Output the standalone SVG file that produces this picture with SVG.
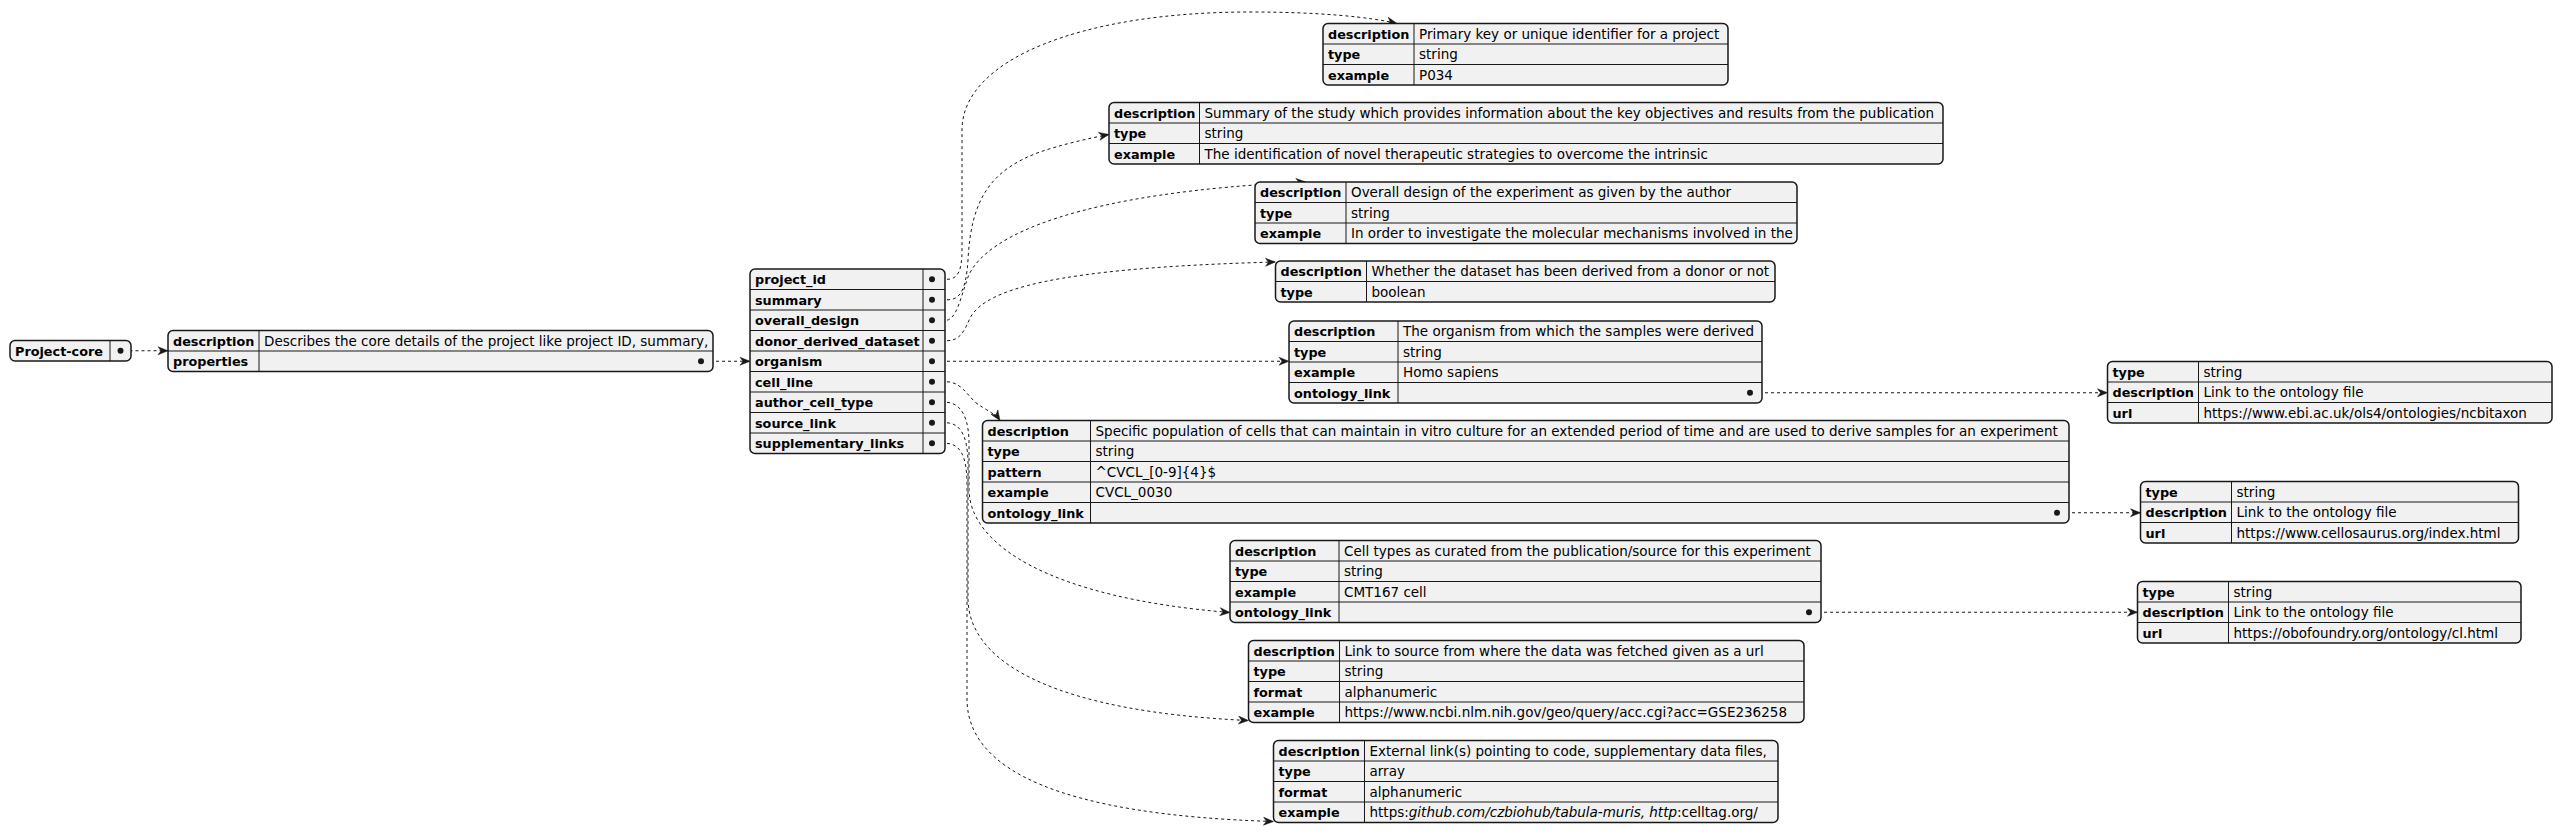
<svg xmlns="http://www.w3.org/2000/svg" width="2562" height="836" viewBox="0 0 2562 836">
<style>
.tb{fill:#F1F1F1;stroke:#181818;stroke-width:1.5}
.ln{stroke:#181818;stroke-width:1}
.k{font-family:"DejaVu Sans",sans-serif;font-weight:bold;font-size:12.8px;fill:#000}
.v{font-family:"DejaVu Sans",sans-serif;font-size:13.5px;fill:#000}
.e{fill:none;stroke:#181818;stroke-width:1;stroke-dasharray:3,3}
.dot{fill:#181818}
</style>
<defs>
<marker id="ah" markerUnits="userSpaceOnUse" markerWidth="11" markerHeight="9" refX="10" refY="4" orient="auto" overflow="visible">
<path d="M0,0 L10,4 L0,8 L3,4 Z" fill="#181818" stroke="#181818" stroke-width="0.5"/>
</marker>
</defs>
<rect width="2562" height="836" fill="#FFFFFF"/>

<g id="edges">
<path class="e" d="M123.5,350.75 L168,350.75" marker-end="url(#ah)"/>
<path class="e" d="M704,361.25 L750,361.25" marker-end="url(#ah)"/>
<path class="e" d="M935,279.25 L948,279.25 C958,279 962,270 962,250 L962,130 C962,60 1080,12 1250,12 C1320,12 1370,17 1397,23.5" marker-end="url(#ah)"/>
<path class="e" d="M935,299.75 L948,299.75 C960,299.75 966,290 968,260 C971,200 990,170 1040,152 C1060,145 1090,138 1109,134.5" marker-end="url(#ah)"/>
<path class="e" d="M935,320.25 L946,320.25 C956,320 960,300 968,277 C985,235 1080,192 1306,182" marker-end="url(#ah)"/>
<path class="e" d="M935,340.75 L946,340.75 C958,340.75 963,335 970,318 C985,290 1050,268 1275.5,262" marker-end="url(#ah)"/>
<path class="e" d="M935,361.25 L1289,361.25" marker-end="url(#ah)"/>
<path class="e" d="M935,381.75 L946,381.75 C960,382 965,392 975,402 C985,410 995,413 1000,420.5" marker-end="url(#ah)"/>
<path class="e" d="M935,402.25 L946,402.25 C960,403 968,415 969,440 L969,490 C970,545 1050,598 1230,612.5" marker-end="url(#ah)"/>
<path class="e" d="M935,422.75 L946,422.75 C960,423 967,435 968,460 L968,600 C970,665 1060,712 1248.5,720.5" marker-end="url(#ah)"/>
<path class="e" d="M935,443.25 L946,443.25 C960,444 966,455 967,480 L967,700 C968,770 1060,815 1273.5,821.5" marker-end="url(#ah)"/>
<path class="e" d="M1753,392.75 L2107.5,392.75" marker-end="url(#ah)"/>
<path class="e" d="M2060,512.75 L2140.5,512.75" marker-end="url(#ah)"/>
<path class="e" d="M1812,612.25 L2137.5,612.25" marker-end="url(#ah)"/>
</g>

<g id="project-core">
<rect class="tb" x="10" y="340.5" width="121" height="20.5" rx="5"/>
<line class="ln" x1="110" y1="340.5" x2="110" y2="361"/>
<text class="k" x="15" y="355.5">Project-core</text>
<circle class="dot" cx="120.5" cy="350.75" r="3"/>
</g>

<g id="root">
<rect class="tb" x="168" y="330.5" width="545" height="41" rx="5"/>
<line class="ln" x1="259" y1="330.5" x2="259" y2="371.5"/>
<line class="ln" x1="168" y1="351" x2="713" y2="351"/>
<text class="k" x="173" y="345.5">description</text>
<text class="v" x="264" y="345.5">Describes the core details of the project like project ID, summary,</text>
<text class="k" x="173" y="366">properties</text>
<circle class="dot" cx="701" cy="361.25" r="3"/>
</g>

<g id="properties">
<rect class="tb" x="750" y="269" width="195" height="184.5" rx="5"/>
<line class="ln" x1="923" y1="269" x2="923" y2="453.5"/>
<line class="ln" x1="750" y1="289.5" x2="945" y2="289.5"/>
<line class="ln" x1="750" y1="310" x2="945" y2="310"/>
<line class="ln" x1="750" y1="330.5" x2="945" y2="330.5"/>
<line class="ln" x1="750" y1="351" x2="945" y2="351"/>
<line class="ln" x1="750" y1="371.5" x2="945" y2="371.5"/>
<line class="ln" x1="750" y1="392" x2="945" y2="392"/>
<line class="ln" x1="750" y1="412.5" x2="945" y2="412.5"/>
<line class="ln" x1="750" y1="433" x2="945" y2="433"/>
<text class="k" x="755" y="284">project_id</text>
<text class="k" x="755" y="304.5">summary</text>
<text class="k" x="755" y="325">overall_design</text>
<text class="k" x="755" y="345.5">donor_derived_dataset</text>
<text class="k" x="755" y="366">organism</text>
<text class="k" x="755" y="386.5">cell_line</text>
<text class="k" x="755" y="407">author_cell_type</text>
<text class="k" x="755" y="427.5">source_link</text>
<text class="k" x="755" y="448">supplementary_links</text>
<circle class="dot" cx="932" cy="279.25" r="3"/>
<circle class="dot" cx="932" cy="299.75" r="3"/>
<circle class="dot" cx="932" cy="320.25" r="3"/>
<circle class="dot" cx="932" cy="340.75" r="3"/>
<circle class="dot" cx="932" cy="361.25" r="3"/>
<circle class="dot" cx="932" cy="381.75" r="3"/>
<circle class="dot" cx="932" cy="402.25" r="3"/>
<circle class="dot" cx="932" cy="422.75" r="3"/>
<circle class="dot" cx="932" cy="443.25" r="3"/>
</g>

<g id="project_id">
<rect class="tb" x="1323" y="23.5" width="405" height="61.5" rx="5"/>
<line class="ln" x1="1414" y1="23.5" x2="1414" y2="85"/>
<line class="ln" x1="1323" y1="44" x2="1728" y2="44"/>
<line class="ln" x1="1323" y1="64.5" x2="1728" y2="64.5"/>
<text class="k" x="1328" y="38.5">description</text><text class="v" x="1419" y="38.5">Primary key or unique identifier for a project</text>
<text class="k" x="1328" y="59">type</text><text class="v" x="1419" y="59">string</text>
<text class="k" x="1328" y="79.5">example</text><text class="v" x="1419" y="79.5">P034</text>
</g>

<g id="summary">
<rect class="tb" x="1109" y="102.5" width="834" height="61.5" rx="5"/>
<line class="ln" x1="1199.5" y1="102.5" x2="1199.5" y2="164"/>
<line class="ln" x1="1109" y1="123" x2="1943" y2="123"/>
<line class="ln" x1="1109" y1="143.5" x2="1943" y2="143.5"/>
<text class="k" x="1114" y="117.5">description</text><text class="v" x="1204.5" y="117.5">Summary of the study which provides information about the key objectives and results from the publication</text>
<text class="k" x="1114" y="138">type</text><text class="v" x="1204.5" y="138">string</text>
<text class="k" x="1114" y="158.5">example</text><text class="v" x="1204.5" y="158.5">The identification of novel therapeutic strategies to overcome the intrinsic</text>
</g>

<g id="overall_design">
<rect class="tb" x="1255" y="182" width="542" height="61.5" rx="5"/>
<line class="ln" x1="1346" y1="182" x2="1346" y2="243.5"/>
<line class="ln" x1="1255" y1="202.5" x2="1797" y2="202.5"/>
<line class="ln" x1="1255" y1="223" x2="1797" y2="223"/>
<text class="k" x="1260" y="197">description</text><text class="v" x="1351" y="197">Overall design of the experiment as given by the author</text>
<text class="k" x="1260" y="217.5">type</text><text class="v" x="1351" y="217.5">string</text>
<text class="k" x="1260" y="238">example</text><text class="v" x="1351" y="238">In order to investigate the molecular mechanisms involved in the</text>
</g>

<g id="donor_derived_dataset">
<rect class="tb" x="1275.5" y="261" width="499.5" height="41" rx="5"/>
<line class="ln" x1="1366.5" y1="261" x2="1366.5" y2="302"/>
<line class="ln" x1="1275.5" y1="281.5" x2="1775" y2="281.5"/>
<text class="k" x="1280.5" y="276">description</text><text class="v" x="1371.5" y="276">Whether the dataset has been derived from a donor or not</text>
<text class="k" x="1280.5" y="296.5">type</text><text class="v" x="1371.5" y="296.5">boolean</text>
</g>

<g id="organism">
<rect class="tb" x="1289" y="321" width="473" height="82" rx="5"/>
<line class="ln" x1="1398" y1="321" x2="1398" y2="403"/>
<line class="ln" x1="1289" y1="341.5" x2="1762" y2="341.5"/>
<line class="ln" x1="1289" y1="362" x2="1762" y2="362"/>
<line class="ln" x1="1289" y1="382.5" x2="1762" y2="382.5"/>
<text class="k" x="1294" y="336">description</text><text class="v" x="1403" y="336">The organism from which the samples were derived</text>
<text class="k" x="1294" y="356.5">type</text><text class="v" x="1403" y="356.5">string</text>
<text class="k" x="1294" y="377">example</text><text class="v" x="1403" y="377">Homo sapiens</text>
<text class="k" x="1294" y="397.5">ontology_link</text>
<circle class="dot" cx="1750" cy="392.75" r="3"/>
</g>

<g id="cell_line">
<rect class="tb" x="982.5" y="420.5" width="1086.5" height="102.5" rx="5"/>
<line class="ln" x1="1090.5" y1="420.5" x2="1090.5" y2="523"/>
<line class="ln" x1="982.5" y1="441" x2="2069" y2="441"/>
<line class="ln" x1="982.5" y1="461.5" x2="2069" y2="461.5"/>
<line class="ln" x1="982.5" y1="482" x2="2069" y2="482"/>
<line class="ln" x1="982.5" y1="502.5" x2="2069" y2="502.5"/>
<text class="k" x="987.5" y="435.5">description</text><text class="v" x="1095.5" y="435.5">Specific population of cells that can maintain in vitro culture for an extended period of time and are used to derive samples for an experiment</text>
<text class="k" x="987.5" y="456">type</text><text class="v" x="1095.5" y="456">string</text>
<text class="k" x="987.5" y="476.5">pattern</text><text class="v" x="1095.5" y="476.5">^CVCL_[0-9]{4}$</text>
<text class="k" x="987.5" y="497">example</text><text class="v" x="1095.5" y="497">CVCL_0030</text>
<text class="k" x="987.5" y="517.5">ontology_link</text>
<circle class="dot" cx="2057" cy="512.75" r="3"/>
</g>

<g id="author_cell_type">
<rect class="tb" x="1230" y="540.5" width="591" height="82" rx="5"/>
<line class="ln" x1="1339" y1="540.5" x2="1339" y2="622.5"/>
<line class="ln" x1="1230" y1="561" x2="1821" y2="561"/>
<line class="ln" x1="1230" y1="581.5" x2="1821" y2="581.5"/>
<line class="ln" x1="1230" y1="602" x2="1821" y2="602"/>
<text class="k" x="1235" y="555.5">description</text><text class="v" x="1344" y="555.5">Cell types as curated from the publication/source for this experiment</text>
<text class="k" x="1235" y="576">type</text><text class="v" x="1344" y="576">string</text>
<text class="k" x="1235" y="596.5">example</text><text class="v" x="1344" y="596.5">CMT167 cell</text>
<text class="k" x="1235" y="617">ontology_link</text>
<circle class="dot" cx="1809" cy="612.25" r="3"/>
</g>

<g id="source_link">
<rect class="tb" x="1248.5" y="640.5" width="555.5" height="82" rx="5"/>
<line class="ln" x1="1339.5" y1="640.5" x2="1339.5" y2="722.5"/>
<line class="ln" x1="1248.5" y1="661" x2="1804" y2="661"/>
<line class="ln" x1="1248.5" y1="681.5" x2="1804" y2="681.5"/>
<line class="ln" x1="1248.5" y1="702" x2="1804" y2="702"/>
<text class="k" x="1253.5" y="655.5">description</text><text class="v" x="1344.5" y="655.5">Link to source from where the data was fetched given as a url</text>
<text class="k" x="1253.5" y="676">type</text><text class="v" x="1344.5" y="676">string</text>
<text class="k" x="1253.5" y="696.5">format</text><text class="v" x="1344.5" y="696.5">alphanumeric</text>
<text class="k" x="1253.5" y="717">example</text><text class="v" x="1344.5" y="717">https://www.ncbi.nlm.nih.gov/geo/query/acc.cgi?acc=GSE236258</text>
</g>

<g id="supplementary_links">
<rect class="tb" x="1273.5" y="740.5" width="504.5" height="82" rx="5"/>
<line class="ln" x1="1364.5" y1="740.5" x2="1364.5" y2="822.5"/>
<line class="ln" x1="1273.5" y1="761" x2="1778" y2="761"/>
<line class="ln" x1="1273.5" y1="781.5" x2="1778" y2="781.5"/>
<line class="ln" x1="1273.5" y1="802" x2="1778" y2="802"/>
<text class="k" x="1278.5" y="755.5">description</text><text class="v" x="1369.5" y="755.5">External link(s) pointing to code, supplementary data files,</text>
<text class="k" x="1278.5" y="776">type</text><text class="v" x="1369.5" y="776">array</text>
<text class="k" x="1278.5" y="796.5">format</text><text class="v" x="1369.5" y="796.5">alphanumeric</text>
<text class="k" x="1278.5" y="817">example</text><text class="v" x="1369.5" y="817">https:<tspan font-style="italic">github.com/czbiohub/tabula-muris, http</tspan>:celltag.org/</text>
</g>

<g id="organism_ontology">
<rect class="tb" x="2107.5" y="361.5" width="444.5" height="61.5" rx="5"/>
<line class="ln" x1="2198.5" y1="361.5" x2="2198.5" y2="423"/>
<line class="ln" x1="2107.5" y1="382" x2="2552" y2="382"/>
<line class="ln" x1="2107.5" y1="402.5" x2="2552" y2="402.5"/>
<text class="k" x="2112.5" y="376.5">type</text><text class="v" x="2203.5" y="376.5">string</text>
<text class="k" x="2112.5" y="397">description</text><text class="v" x="2203.5" y="397">Link to the ontology file</text>
<text class="k" x="2112.5" y="417.5">url</text><text class="v" x="2203.5" y="417.5">https://www.ebi.ac.uk/ols4/ontologies/ncbitaxon</text>
</g>

<g id="cell_line_ontology">
<rect class="tb" x="2140.5" y="481.5" width="378" height="61.5" rx="5"/>
<line class="ln" x1="2231.5" y1="481.5" x2="2231.5" y2="543"/>
<line class="ln" x1="2140.5" y1="502" x2="2518.5" y2="502"/>
<line class="ln" x1="2140.5" y1="522.5" x2="2518.5" y2="522.5"/>
<text class="k" x="2145.5" y="496.5">type</text><text class="v" x="2236.5" y="496.5">string</text>
<text class="k" x="2145.5" y="517">description</text><text class="v" x="2236.5" y="517">Link to the ontology file</text>
<text class="k" x="2145.5" y="537.5">url</text><text class="v" x="2236.5" y="537.5">https://www.cellosaurus.org/index.html</text>
</g>

<g id="author_cell_type_ontology">
<rect class="tb" x="2137.5" y="581.5" width="383.5" height="61.5" rx="5"/>
<line class="ln" x1="2228.5" y1="581.5" x2="2228.5" y2="643"/>
<line class="ln" x1="2137.5" y1="602" x2="2521" y2="602"/>
<line class="ln" x1="2137.5" y1="622.5" x2="2521" y2="622.5"/>
<text class="k" x="2142.5" y="596.5">type</text><text class="v" x="2233.5" y="596.5">string</text>
<text class="k" x="2142.5" y="617">description</text><text class="v" x="2233.5" y="617">Link to the ontology file</text>
<text class="k" x="2142.5" y="637.5">url</text><text class="v" x="2233.5" y="637.5">https://obofoundry.org/ontology/cl.html</text>
</g>
</svg>
